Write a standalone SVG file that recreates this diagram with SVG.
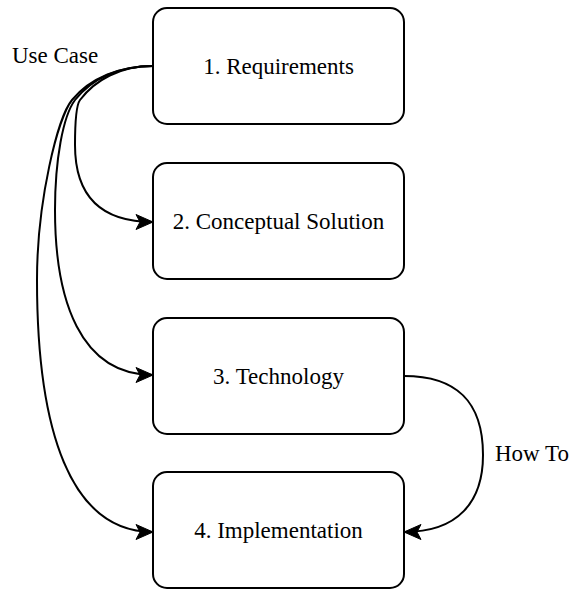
<svg xmlns="http://www.w3.org/2000/svg" width="571" height="589" viewBox="0 0 571 589">
  <style>
    .box { fill: #ffffff; stroke: #000000; stroke-width: 2; }
    .lbl { font-family: "Liberation Serif", "Times New Roman", serif; font-size: 23px; fill: #000000; }
    .edge { fill: none; stroke: #000000; stroke-width: 2; }
  </style>
  <defs>
    <marker id="arrow" markerUnits="userSpaceOnUse" markerWidth="20" markerHeight="20" refX="18" refY="9" orient="auto" viewBox="0 0 20 18">
      <path d="M18,9 L1,1.5 L5,9 L1,16.5 Z" fill="#000000" stroke="#000000" stroke-width="1"/>
    </marker>
  </defs>
  <rect x="0" y="0" width="571" height="589" fill="#ffffff"/>

  <g id="connectors">
    <path class="edge" d="M153,66 C120,66 95,80 80,100 C77,104 75,120 75,145 C75,195 100,222 153,222" marker-end="url(#arrow)"/>
    <path class="edge" d="M153,66 C120,66 92,78 75,100 C63,116 55,160 55,210 C55,300 80,375 153,375" marker-end="url(#arrow)"/>
    <path class="edge" d="M153,66 C120,66 90,78 72,100 C58,117 37,200 37,280 C37,430 70,532 153,532" marker-end="url(#arrow)"/>
    <path class="edge" d="M404,376 C455,376 483,400 483,455 C483,502 458,532 404,532" marker-end="url(#arrow)"/>
  </g>

  <g id="label-use-case">
    <text class="lbl" x="12" y="63">Use Case</text>
  </g>
  <g id="label-how-to">
    <text class="lbl" x="495" y="461">How To</text>
  </g>

  <g id="node-1">
    <rect class="box" x="153" y="8" width="251" height="116" rx="14" ry="14"/>
    <text class="lbl" x="278.5" y="74" text-anchor="middle">1. Requirements</text>
  </g>
  <g id="node-2">
    <rect class="box" x="153" y="163" width="251" height="116" rx="14" ry="14"/>
    <text class="lbl" x="278.5" y="229" text-anchor="middle">2. Conceptual Solution</text>
  </g>
  <g id="node-3">
    <rect class="box" x="153" y="318" width="251" height="116" rx="14" ry="14"/>
    <text class="lbl" x="278.5" y="384" text-anchor="middle">3. Technology</text>
  </g>
  <g id="node-4">
    <rect class="box" x="153" y="472" width="251" height="116" rx="14" ry="14"/>
    <text class="lbl" x="278.5" y="538" text-anchor="middle">4. Implementation</text>
  </g>
</svg>
